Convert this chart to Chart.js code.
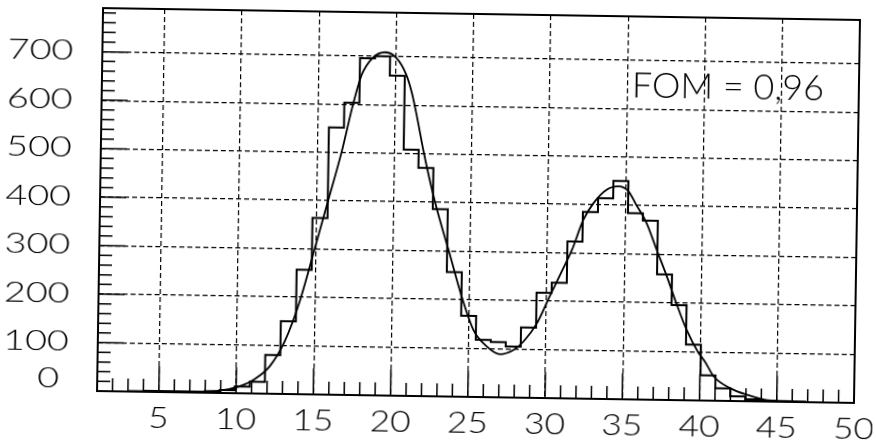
<!DOCTYPE html>
<html>
<head>
<meta charset="utf-8">
<script src="https://cdn.jsdelivr.net/npm/chart.js@4.4.0/dist/chart.umd.min.js"></script>
<style>
  html, body { margin: 0; padding: 0; background: #fff; }
  /* the printed plot sits slightly tilted on the page */
  #fomChart { display: block; transform: rotate(0.9deg); transform-origin: 478px 206px; }
</style>
</head>
<body>
<canvas id="fomChart" width="876" height="446"></canvas>
<script>
// histogram: 50 channels, first channel edge and channel width in x units
const binStart = 1.16;
const binWidth = 0.972;
const counts = [
    0, 0, 1, 2, 2, 2, 2, 3, 6, 14,
    24, 80, 150, 257, 364, 551, 603, 695, 700, 660,
    508, 471, 386, 257, 167, 118, 114, 105, 145, 217,
    238, 324, 385, 414, 450, 384, 369, 259, 196, 115,
    52, 26, 10, 4, 2, 1, 1, 0, 0, 0
];

// fitted double peak, sampled along x
const fitX = [1, 5, 7, 8, 8.7, 9.5, 10.2, 11.2, 12.16, 13.1, 14.03, 14.94, 15.76, 16.58, 17.28,
    17.8, 18.5, 19.3, 20.0, 20.7, 21.1, 21.5, 21.86, 22.67, 23.6, 24.5, 25.3, 26.2, 27.04,
    27.9, 28.55, 29.4, 30.2, 30.9, 31.6, 32.3, 32.95, 33.8, 34.54, 35.2, 35.7, 36.4, 37.07,
    37.76, 38.4, 39.1, 39.85, 40.3, 40.9, 42.0, 43.1, 44.2, 45.5, 47, 50];
const fitY = [0, 0, 1, 2.5, 4, 8, 14, 30, 57, 109, 192, 300, 400, 500, 600,
    660, 696, 708, 698, 662, 622, 565, 509, 402, 303, 207, 138, 104, 89,
    98, 116, 154, 210, 258, 307, 369, 404, 432, 439, 429, 402, 364, 310,
    255, 200, 145, 100, 81, 50, 26, 13, 4, 1, 0, 0];

const xTicks = [5, 10, 15, 20, 25, 30, 35, 40, 45, 50];
const yTicks = [0, 100, 200, 300, 400, 500, 600, 700];
const fomText = 'FOM = 0,96';

const histPoints = counts.map((c, i) => ({ x: binStart + i * binWidth, y: c }));
histPoints.push({ x: binStart + counts.length * binWidth, y: counts[counts.length - 1] });
const fitPoints = fitX.map((v, i) => ({ x: v, y: fitY[i] }));

const labelFamily = 'Lato, "Liberation Sans", Arial, sans-serif';

// frame, inner tick marks, stretched axis numbers and the FOM note
const frameAndLabels = {
    id: 'frameAndLabels',
    afterDraw(chart) {
        const { ctx, chartArea: a, scales: { x, y } } = chart;
        ctx.save();
        ctx.strokeStyle = '#000';
        ctx.lineWidth = 1.5;
        ctx.beginPath();
        for (let v = 2; v < 50; v++) {
            const px = x.getPixelForValue(v);
            const len = v % 5 === 0 ? 26 : 13;
            ctx.moveTo(px, a.bottom);
            ctx.lineTo(px, a.bottom - len);
        }
        for (let v = 20; v < 790; v += 20) {
            const py = y.getPixelForValue(v);
            const len = v % 100 === 0 ? 26 : 13;
            ctx.moveTo(a.left, py);
            ctx.lineTo(a.left + len, py);
        }
        ctx.stroke();

        ctx.lineWidth = 2;
        ctx.strokeRect(a.left, a.top, a.right - a.left, a.bottom - a.top);

        ctx.fillStyle = '#000';
        ctx.font = '300 29px ' + labelFamily;
        ctx.textAlign = 'center';
        ctx.textBaseline = 'middle';
        xTicks.forEach(v => {
            ctx.save();
            ctx.translate(x.getPixelForValue(v), a.bottom + 27);
            ctx.scale(1.22, 1);
            ctx.fillText(String(v), 0, 0);
            ctx.restore();
        });

        ctx.font = '300 27px ' + labelFamily;
        ctx.textAlign = 'right';
        yTicks.forEach(v => {
            // the zero sits a little higher and further left than the others
            const dx = v === 0 ? -9 : 0;
            const dy = v === 0 ? -12 : 0;
            ctx.save();
            ctx.translate(a.left - 29 + dx, y.getPixelForValue(v) + dy);
            ctx.scale(1.4, 1);
            ctx.fillText(String(v), 0, 0);
            ctx.restore();
        });

        ctx.font = '300 36px ' + labelFamily;
        ctx.textAlign = 'left';
        ctx.fillText(fomText, x.getPixelForValue(35.3), y.getPixelForValue(646));
        ctx.restore();
    }
};

const gridOpts = { color: '#000', lineWidth: 1.2, drawTicks: false };

new Chart(document.getElementById('fomChart'), {
    type: 'line',
    data: {
        datasets: [
            {
                data: histPoints,
                stepped: true,
                borderColor: '#000',
                borderWidth: 2,
                pointRadius: 0,
                fill: false
            },
            {
                data: fitPoints,
                cubicInterpolationMode: 'monotone',
                borderColor: '#000',
                borderWidth: 1.8,
                pointRadius: 0,
                fill: false
            }
        ]
    },
    options: {
        responsive: false,
        animation: false,
        events: [],
        layout: { padding: { top: 14, right: 19, left: 0, bottom: 0 } },
        plugins: {
            legend: { display: false },
            tooltip: { enabled: false }
        },
        scales: {
            x: {
                type: 'linear',
                min: 1,
                max: 50,
                afterBuildTicks: s => { s.ticks = xTicks.map(v => ({ value: v })); },
                afterFit: s => { s.height = 49; },
                ticks: { display: false },
                grid: gridOpts,
                border: { display: false, dash: [5, 3] }
            },
            y: {
                type: 'linear',
                min: 0,
                max: 790,
                afterBuildTicks: s => { s.ticks = yTicks.map(v => ({ value: v })); },
                afterFit: s => { s.width = 100; },
                ticks: { display: false },
                grid: gridOpts,
                border: { display: false, dash: [5, 3] }
            }
        }
    },
    plugins: [frameAndLabels]
});
</script>
</body>
</html>
